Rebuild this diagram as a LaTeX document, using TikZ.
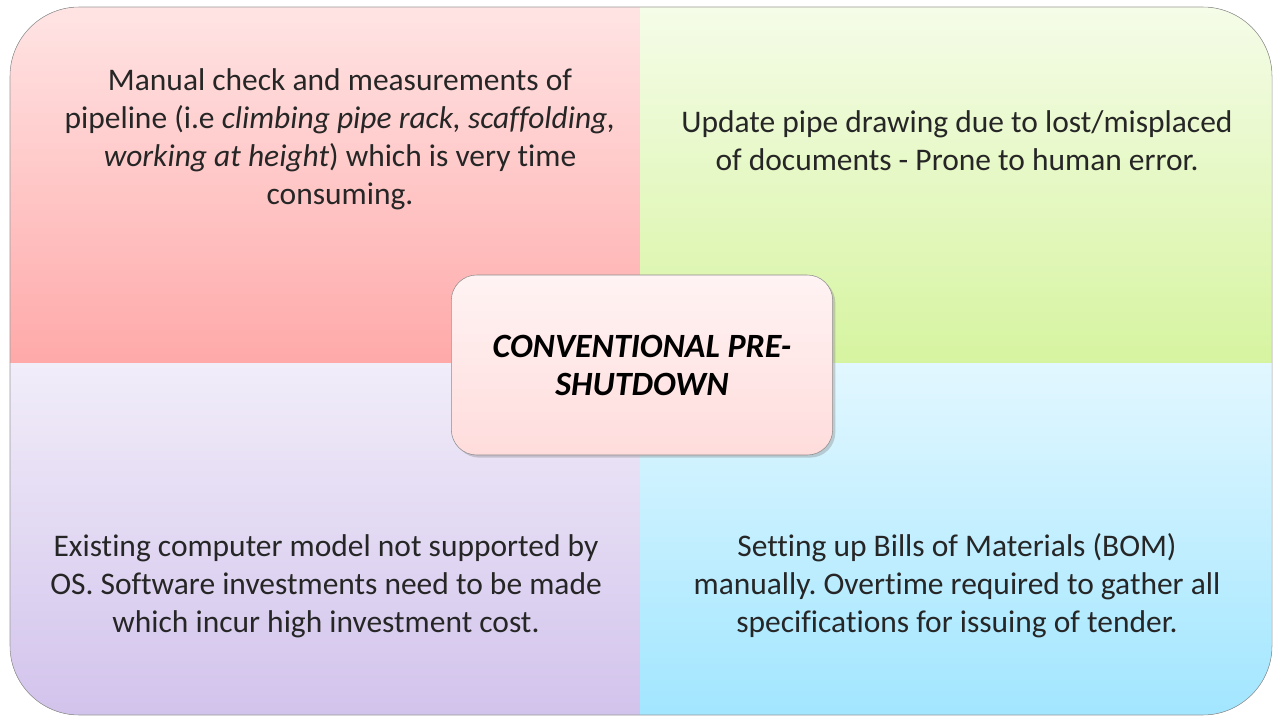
\documentclass[tikz,border=0pt]{standalone}
\usepackage{fontspec}
\setmainfont{Carlito}[Ligatures=NoCommon]
\usetikzlibrary{shadows}
\frenchspacing

\definecolor{redtop}{HTML}{FFE4E4}
\definecolor{redbot}{HTML}{FFA9A9}
\definecolor{greentop}{HTML}{F5FCE8}
\definecolor{greenbot}{HTML}{D6F4A0}
\definecolor{violettop}{HTML}{F1EDF9}
\definecolor{violetbot}{HTML}{D2C3EC}
\definecolor{bluetop}{HTML}{E2F7FF}
\definecolor{bluebot}{HTML}{A2E6FF}
\definecolor{coretop}{HTML}{FFF3F3}
\definecolor{corebot}{HTML}{FFDCDC}
\definecolor{inktext}{HTML}{262626}

\tikzset{
  quadtext/.style={align=center, text=inktext, font=\fontsize{23.6}{28.5}\selectfont},
  corebox/.style={draw=black!45, thin, rounded corners=19pt, top color=coretop, bottom color=corebot,
    minimum width=286pt, minimum height=135pt, drop shadow={opacity=0.35, shadow xshift=2pt, shadow yshift=-2pt}}
}

\begin{document}
\begin{tikzpicture}[x=0.75pt, y=-0.75pt]
    \useasboundingbox (0,0) rectangle (1277,717);

    % quadrant fills, clipped to the outer rounded frame
    \begin{scope}
        \clip[rounded corners=52pt] (10,7) rectangle (1272,715);
        \fill[top color=redtop, bottom color=redbot] (10,7) rectangle (640,363);
        \fill[top color=greentop, bottom color=greenbot] (640,7) rectangle (1272,363);
        \fill[top color=violettop, bottom color=violetbot] (10,363) rectangle (640,715);
        \fill[top color=bluetop, bottom color=bluebot] (640,363) rectangle (1272,715);
    \end{scope}
    \draw[black!40, thin, rounded corners=52pt] (10,7) rectangle (1272,715);

    % top left
    \node[quadtext] (manual) at (340,139)
        {Manual check and measurements of\\
         pipeline (i.e \textit{climbing pipe rack, scaffolding,}\\
         \textit{working at height}) which is very time\\
         consuming.};

    % top right
    \node[quadtext] (update) at (957,141)
        {Update pipe drawing due to lost/misplaced\\
         of documents - Prone to human error.};

    % bottom left
    \node[quadtext] (model) at (326,586)
        {Existing computer model not supported by\\
         OS. Software investments need to be made\\
         which incur high investment cost.};

    % bottom right
    \node[quadtext] (bom) at (957,586)
        {Setting up Bills of Materials (BOM)\\
         manually. Overtime required to gather all\\
         specifications for issuing of tender.};

    % centre box
    \node[corebox, quadtext, text=black, font=\fontsize{25.5}{28.5}\selectfont\bfseries\itshape] (core) at (642,365)
        {CONVENTIONAL PRE-\\SHUTDOWN};
\end{tikzpicture}
\end{document}
